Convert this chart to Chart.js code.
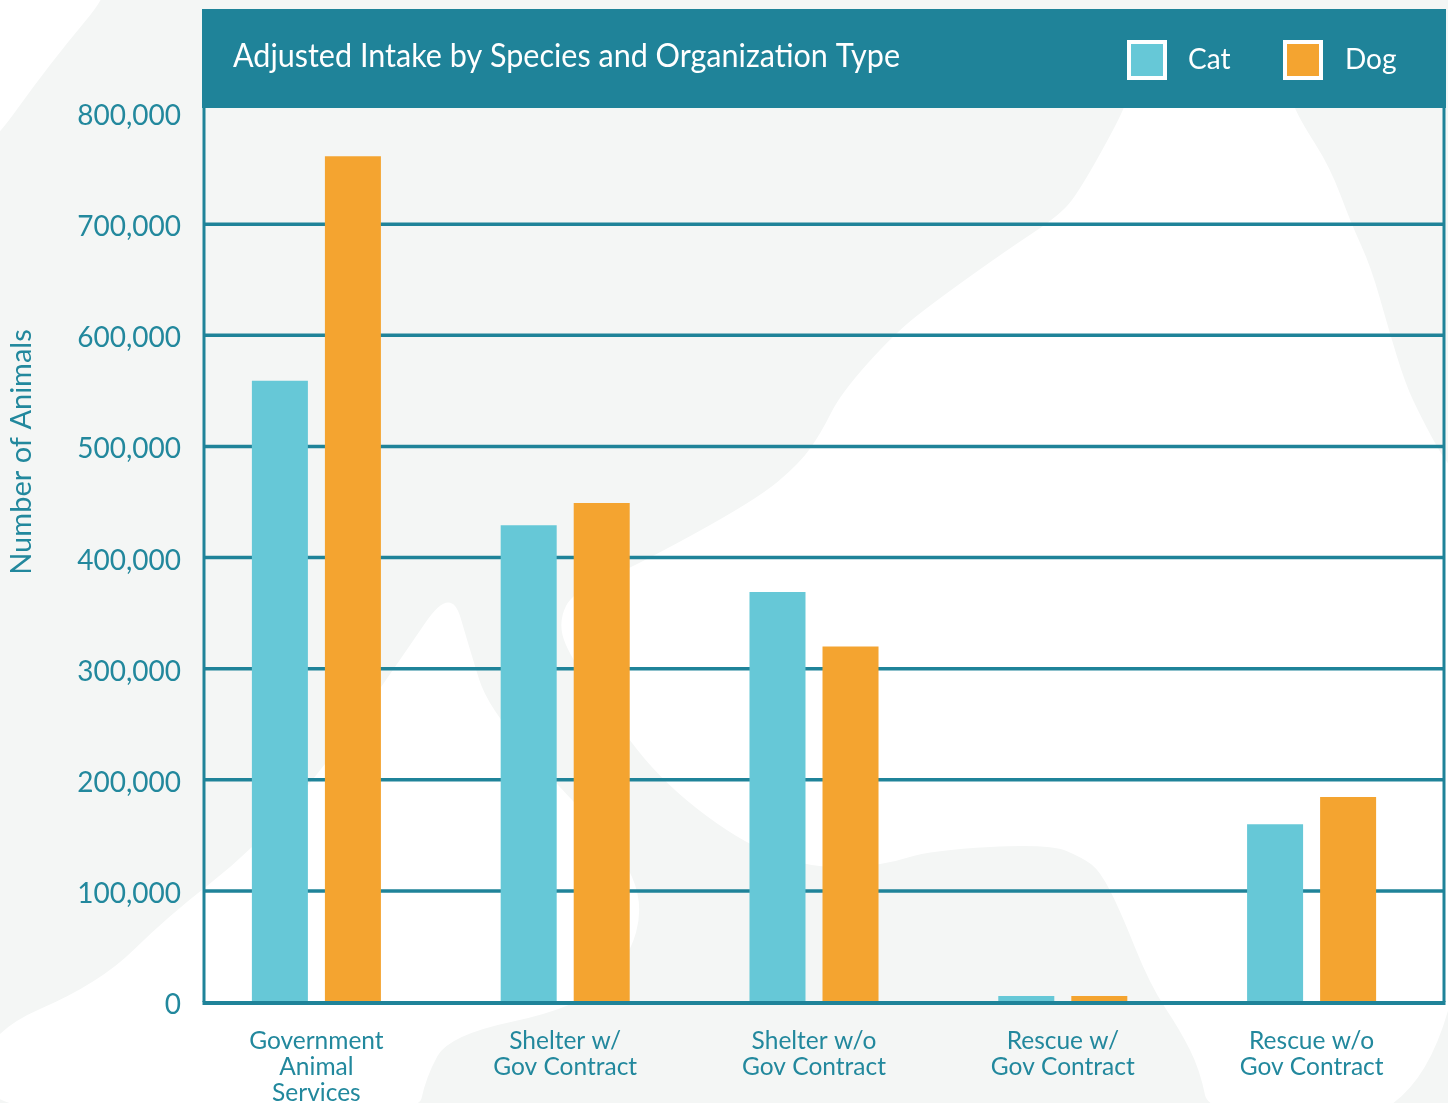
<!DOCTYPE html>
<html>
<head>
<meta charset="utf-8">
<script src="https://cdn.jsdelivr.net/npm/chart.js@4"></script>
<style>
  html, body { margin: 0; padding: 0; background: #ffffff; overflow: hidden; }
  #wrap { width: 1448px; height: 1103px; position: relative; }
</style>
</head>
<body>
<div id="wrap"><canvas id="c" width="1448" height="1103"></canvas></div>
<script>
// ---------- data ----------
const categories = [
  ['Government', 'Animal', 'Services'],
  ['Shelter w/', 'Gov Contract'],
  ['Shelter w/o', 'Gov Contract'],
  ['Rescue w/', 'Gov Contract'],
  ['Rescue w/o', 'Gov Contract']
];
const seriesNames = ['Cat', 'Dog'];
const catValues = [559000, 429000, 369000, 5400, 160000];
const dogValues = [761000, 449000, 320000, 5400, 184500];
const yTickValues = [0, 100000, 200000, 300000, 400000, 500000, 600000, 700000, 800000];
const chartTitle = 'Adjusted Intake by Species and Organization Type';
const yAxisTitle = 'Number of Animals';

// ---------- styles ----------
const TEAL = '#1f8399';
const TEXT_TEAL = '#22889d';
const CAT = '#66c8d7';
const DOG = '#f4a430';
const GREY = '#f4f6f5';
const FONT = 'Lato, "Open Sans", sans-serif';

function smoothShape(ctx, p) {
  const n = p.length;
  ctx.beginPath();
  ctx.moveTo((p[n - 1][0] + p[0][0]) / 2, (p[n - 1][1] + p[0][1]) / 2);
  for (let i = 0; i < n; i++) {
    const q = p[(i + 1) % n];
    ctx.quadraticCurveTo(p[i][0], p[i][1], (p[i][0] + q[0]) / 2, (p[i][1] + q[1]) / 2);
  }
  ctx.closePath();
}

const whiteShapes = [
  [[-20,-20],[106,-20],[103,0],[67,43],[33,87],[0,133],[-20,150]],
  [[1128,96],[1290,96],[1300,120],[1330,167],[1351,223],[1371,267],[1388,327],[1405,383],[1421,417],[1444,460],[1470,490],[1470,1120],[1210,1120],[1200,1070],[1180,1030],[1150,985],[1120,910],[1100,871],[1083,858],[1050,844],[931,850],[885,865],[816,869],[747,846],[665,785],[610,715],[566,650],[559,620],[573,592],[630,569],[756,500],[800,463],[821,433],[841,393],[895,333],[937,300],[1007,250],[1060,215],[1080,190],[1120,118]],
  [[-20,1035],[100,983],[167,917],[253,850],[330,760],[400,660],[451,585],[470,650],[488,708],[564,792],[620,850],[644,904],[628,961],[577,1008],[449,1035],[426,1077],[417,1120],[-20,1120]]
];

const decor = {
  id: 'decor',
  beforeDraw(chart) {
    const ctx = chart.ctx;
    ctx.save();
    ctx.fillStyle = GREY;
    ctx.fillRect(0, 0, chart.width, chart.height);
    ctx.fillStyle = '#ffffff';
    whiteShapes.forEach(s => { smoothShape(ctx, s); ctx.fill(); });
    ctx.restore();
  },
  beforeDatasetsDraw(chart) {
    const ctx = chart.ctx;
    const y = chart.scales.y;
    ctx.save();
    ctx.strokeStyle = TEAL;
    ctx.lineWidth = 3.5;
    y.ticks.forEach(t => {
      if (t.value === 0 || t.value === y.max) return;
      const py = y.getPixelForValue(t.value);
      ctx.beginPath();
      ctx.moveTo(204, py);
      ctx.lineTo(1444, py);
      ctx.stroke();
    });
    ctx.lineWidth = 3;
    ctx.beginPath();
    ctx.moveTo(204, 100); ctx.lineTo(204, y.getPixelForValue(0));
    ctx.moveTo(1444, 100); ctx.lineTo(1444, y.getPixelForValue(0));
    ctx.stroke();
    ctx.restore();
  },
  afterDatasetsDraw(chart) {
    const ctx = chart.ctx;
    const y0 = chart.scales.y.getPixelForValue(0);
    ctx.save();
    ctx.strokeStyle = TEAL;
    ctx.lineWidth = 4;
    ctx.beginPath();
    ctx.moveTo(202.5, y0 + 1);
    ctx.lineTo(1445.5, y0 + 1);
    ctx.stroke();
    ctx.restore();
  },
  afterDraw(chart) {
    const ctx = chart.ctx;
    ctx.save();
    // header band
    ctx.fillStyle = TEAL;
    ctx.fillRect(202, 9, 1244, 99);
    // title
    ctx.fillStyle = '#ffffff';
    ctx.font = '32px ' + FONT;
    ctx.textBaseline = 'middle';
    ctx.textAlign = 'left';
    ctx.fillText(chartTitle, 233, 57, 667);
    // legend
    const boxes = [[1127, 1188], [1283, 1345]];
    chart.data.datasets.forEach((ds, i) => {
      const [bx, tx] = boxes[i];
      ctx.fillStyle = '#ffffff';
      ctx.fillRect(bx, 40, 40, 40);
      ctx.fillStyle = ds.backgroundColor;
      ctx.fillRect(bx + 4, 44, 32, 32);
      ctx.fillStyle = '#ffffff';
      ctx.font = '28px ' + FONT;
      ctx.fillText(ds.label, tx, 60);
    });
    // y axis title
    ctx.translate(22, 452);
    ctx.rotate(-Math.PI / 2);
    ctx.fillStyle = TEXT_TEAL;
    ctx.font = '29px ' + FONT;
    ctx.textAlign = 'center';
    ctx.fillText(yAxisTitle, 0, 0);
    ctx.restore();
  }
};

new Chart(document.getElementById('c'), {
  type: 'bar',
  data: {
    labels: categories,
    datasets: [
      { label: seriesNames[0], data: catValues, backgroundColor: CAT },
      { label: seriesNames[1], data: dogValues, backgroundColor: DOG }
    ]
  },
  options: {
    responsive: false,
    animation: false,
    devicePixelRatio: 1,
    categoryPercentage: 0.587,
    barPercentage: 0.767,
    layout: { padding: { top: 113, right: 12, left: 0, bottom: 0 } },
    plugins: { legend: { display: false }, tooltip: { enabled: false } },
    scales: {
      x: {
        grid: { display: false, drawTicks: false },
        border: { display: false },
        ticks: {
          color: TEXT_TEAL,
          font: { family: FONT, size: 24.5, lineHeight: 1.06 },
          padding: 26,
          maxRotation: 0,
          autoSkip: false
        },
        afterFit(scale) { scale.height = 101; }
      },
      y: {
        min: 0,
        max: 800000,
        grid: { display: false, drawTicks: false },
        border: { display: false },
        afterBuildTicks(scale) { scale.ticks = yTickValues.map(v => ({ value: v })); },
        ticks: {
          color: TEXT_TEAL,
          font: { family: FONT, size: 28 },
          padding: 11,
          labelOffset: 3,
          callback: v => Number(v).toLocaleString('en-US')
        },
        afterFit(scale) { scale.width = 192; }
      }
    }
  },
  plugins: [decor]
});
</script>
</body>
</html>
